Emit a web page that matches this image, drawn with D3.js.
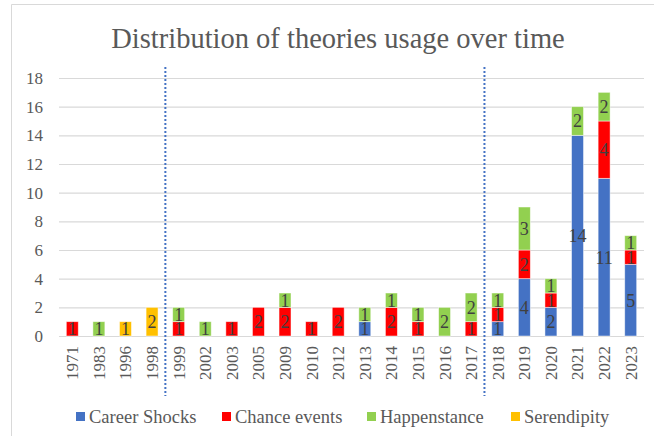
<!DOCTYPE html>
<html>
<head>
<meta charset="utf-8">
<script src="https://cdn.jsdelivr.net/npm/d3@7"></script>
<style>
  body { margin: 0; background: #fff; }
  svg text { font-family: 'Liberation Serif', 'Tinos', 'DejaVu Serif', serif; }
</style>
</head>
<body>
<svg id="chart" width="654" height="436"></svg>
<script>
// chart values
const years = ['1971', '1983', '1996', '1998', '1999', '2002', '2003', '2005', '2009', '2010', '2012',
  '2013', '2014', '2015', '2016', '2017', '2018', '2019', '2020', '2021', '2022', '2023'];
const careerShocks = [0, 0, 0, 0, 0, 0, 0, 0, 0, 0, 0, 1, 0, 0, 0, 0, 1, 4, 2, 14, 11, 5];
const chanceEvents = [1, 0, 0, 0, 1, 0, 1, 2, 2, 1, 2, 0, 2, 1, 0, 1, 1, 2, 1, 0, 4, 1];
const happenstance = [0, 1, 0, 0, 1, 1, 0, 0, 1, 0, 0, 1, 1, 1, 2, 2, 1, 3, 1, 2, 2, 1];
const serendipity = [0, 0, 1, 2, 0, 0, 0, 0, 0, 0, 0, 0, 0, 0, 0, 0, 0, 0, 0, 0, 0, 0];
const seriesNames = ['Career Shocks', 'Chance events', 'Happenstance', 'Serendipity'];
const yTicks = [0, 2, 4, 6, 8, 10, 12, 14, 16, 18];
const dividerYears = ['1999', '2018'];

const colors = ['#4472c4', '#ff0000', '#92d050', '#ffc000'];

const margin = {top: 78, left: 59};
const plotRight = 644;
const plotBottom = 336;

const svg = d3.select('#chart');

// outer frame (only top/left visible in the original)
svg.append('path')
  .attr('d', 'M11.5,440 V4.5 H660')
  .attr('fill', 'none')
  .attr('stroke', '#d9d9d9');

svg.append('text')
  .attr('x', 338)
  .attr('y', 48)
  .attr('text-anchor', 'middle')
  .attr('font-size', 28.5)
  .attr('fill', '#595959')
  .text('Distribution of theories usage over time');

const table = years.map((y, i) => ({
  year: y,
  'Career Shocks': careerShocks[i],
  'Chance events': chanceEvents[i],
  'Happenstance': happenstance[i],
  'Serendipity': serendipity[i]
}));

const xScale = d3.scaleBand()
  .domain(years)
  .range([margin.left, plotRight])
  .paddingInner(0.55)
  .paddingOuter(0.275);

const yScale = d3.scaleLinear()
  .domain([0, 18])
  .range([plotBottom, margin.top]);

// gridlines
svg.append('g')
  .attr('transform', `translate(${margin.left},0)`)
  .call(d3.axisLeft(yScale).tickValues(yTicks).tickSize(-(plotRight - margin.left)).tickFormat(''))
  .call(g => g.select('.domain').remove())
  .call(g => g.selectAll('line').attr('stroke', '#d9d9d9').attr('stroke-width', 1.2));

// y labels
svg.append('g')
  .attr('transform', `translate(${margin.left},0)`)
  .call(d3.axisLeft(yScale).tickValues(yTicks).tickSize(0).tickPadding(16))
  .call(g => g.select('.domain').remove())
  .call(g => g.selectAll('text')
    .attr('font-size', 17)
    .attr('fill', '#595959'));

// x labels
svg.append('g')
  .attr('transform', `translate(0,${plotBottom})`)
  .call(d3.axisBottom(xScale).tickSize(0).tickPadding(0))
  .call(g => g.select('.domain').remove())
  .call(g => g.selectAll('text')
    .attr('font-size', 17)
    .attr('fill', '#595959')
    .attr('text-anchor', 'end')
    .attr('transform', 'rotate(-90)')
    .attr('x', -10)
    .attr('y', 0)
    .attr('dy', '0.35em'));

const stack = d3.stack().keys(seriesNames);
const layers = stack(table);

const layerG = svg.append('g').selectAll('g')
  .data(layers)
  .join('g')
  .attr('fill', (d, i) => colors[i]);

layerG.selectAll('rect')
  .data(d => d.filter(p => p[1] - p[0] > 0))
  .join('rect')
  .attr('x', d => xScale(d.data.year))
  .attr('y', d => yScale(d[1]))
  .attr('width', xScale.bandwidth())
  .attr('height', d => yScale(d[0]) - yScale(d[1]))
  .attr('stroke', '#ffffff')
  .attr('stroke-opacity', 0.6)
  .attr('stroke-width', 0.8);

layerG.selectAll('text')
  .data(d => d.filter(p => p[1] - p[0] > 0))
  .join('text')
  .attr('x', d => xScale(d.data.year) + xScale.bandwidth() / 2)
  .attr('y', d => (yScale(d[0]) + yScale(d[1])) / 2)
  .attr('dy', '0.36em')
  .attr('text-anchor', 'middle')
  .attr('font-size', 18)
  .attr('fill', '#404040')
  .text(d => d[1] - d[0]);

// dotted dividers between periods
const gap = xScale.step() * xScale.paddingInner() / 2;
svg.append('g').selectAll('line')
  .data(dividerYears)
  .join('line')
  .attr('x1', d => xScale(d) - gap)
  .attr('x2', d => xScale(d) - gap)
  .attr('y1', 67)
  .attr('y2', 396)
  .attr('stroke', '#4472c4')
  .attr('stroke-width', 2)
  .attr('stroke-dasharray', '2,2');

// legend
const legendX = [76, 222, 367, 511];
const legend = svg.append('g').selectAll('g')
  .data(seriesNames)
  .join('g')
  .attr('transform', (d, i) => `translate(${legendX[i]},417)`);

legend.append('rect')
  .attr('x', 0)
  .attr('y', -5)
  .attr('width', 9)
  .attr('height', 9)
  .attr('fill', (d, i) => colors[i]);

legend.append('text')
  .attr('x', 13)
  .attr('y', 0)
  .attr('dy', '0.35em')
  .attr('font-size', 18.5)
  .attr('fill', '#595959')
  .text(d => d);
</script>
</body>
</html>
